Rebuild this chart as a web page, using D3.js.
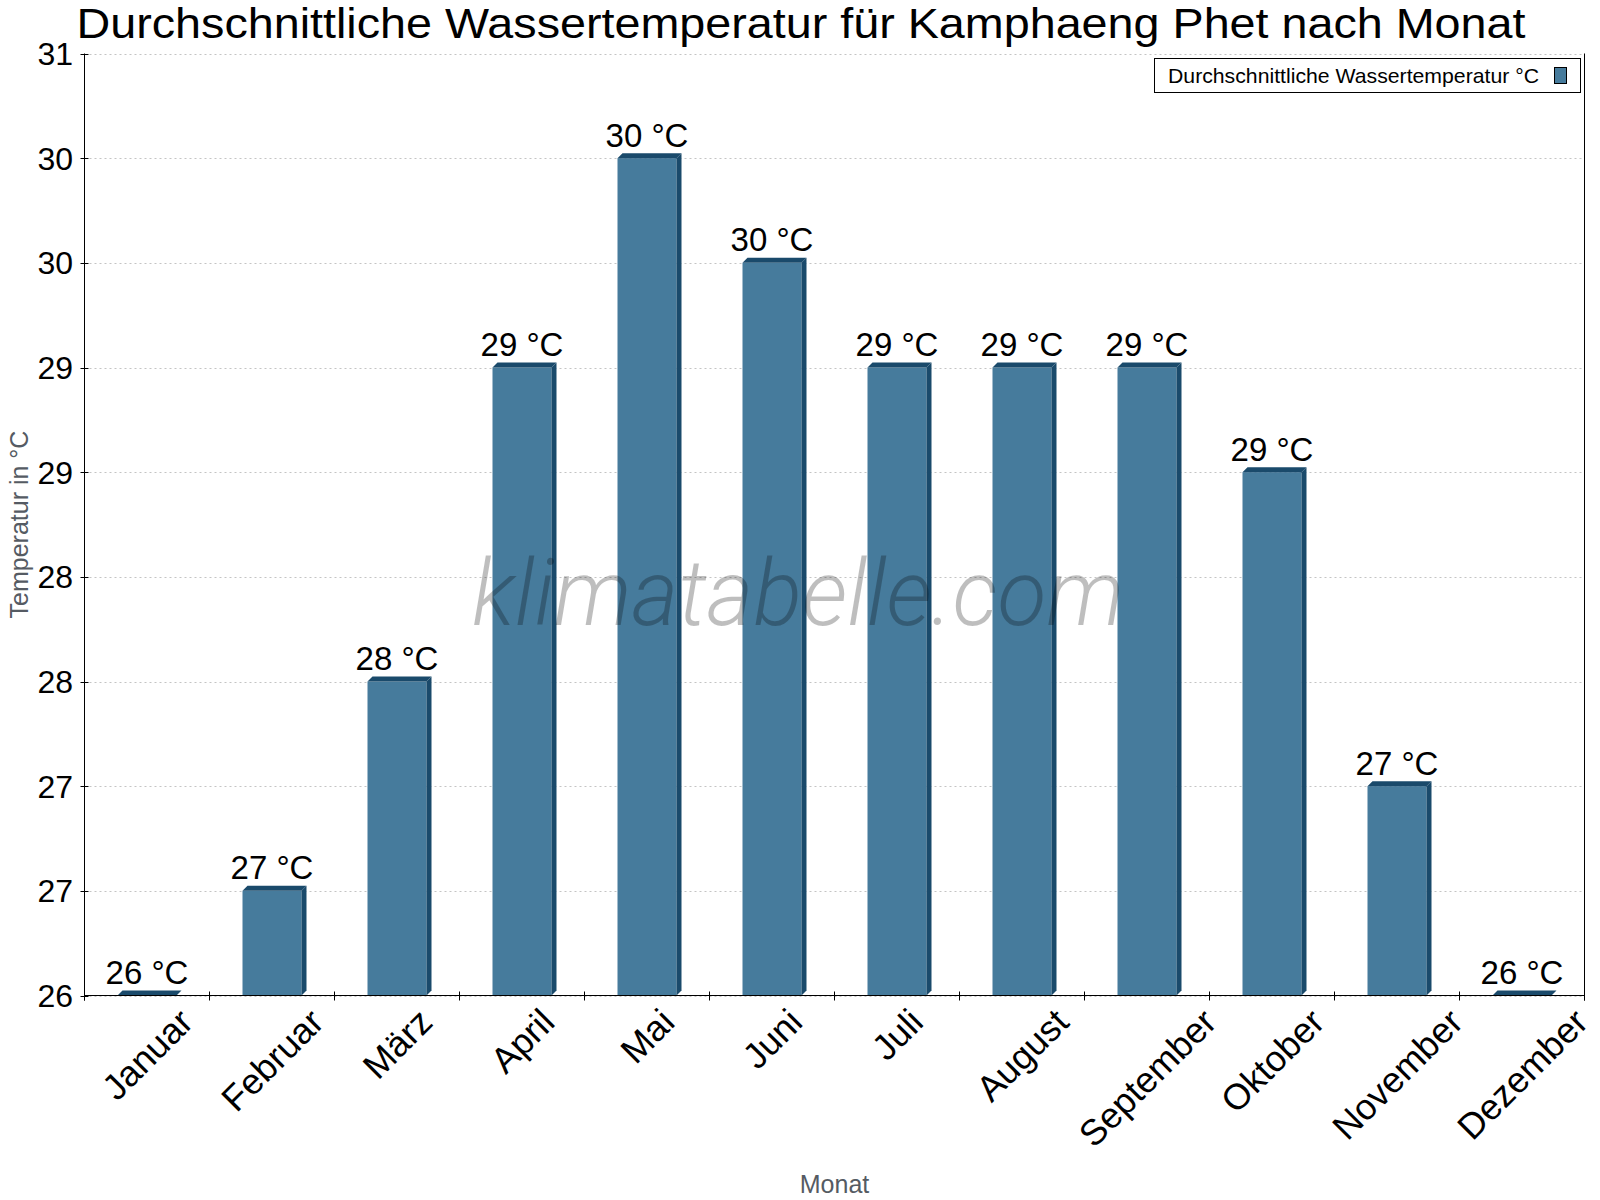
<!DOCTYPE html>
<html>
<head>
	<meta charset="utf-8">
	<title>Durchschnittliche Wassertemperatur Kamphaeng Phet</title>
	<script src="https://d3js.org/d3.v7.min.js"></script>
	<style type="text/css">
		body { margin: 0; background: #fff; }
		svg { display: block; font-family: "Liberation Sans", Arial, Helvetica, sans-serif; }
		.grid { stroke: #c4c4c4; stroke-dasharray: 2,3; }
		.axis { stroke: #000; fill: none; }
	</style>
</head>
<body>
<div id="chart"></div>
<script type="text/javascript">
var months = ["Januar", "Februar", "März", "April", "Mai", "Juni", "Juli",
              "August", "September", "Oktober", "November", "Dezember"];
var waterTemp = [26.0, 26.5, 27.5, 29.0, 30.0, 29.5, 29.0, 29.0, 29.0, 28.5, 27.0, 26.0];
var yTicks = [26, 26.5, 27, 27.5, 28, 28.5, 29, 29.5, 30, 30.5];
var seriesName = "Durchschnittliche Wassertemperatur °C";

var svg_width = 1600;
var svg_height = 1200;
// note: "top" is taken by window.top, so plot_* names
var plot_left = 84.5, plot_right = 1584.5, plot_top = 53.5, plot_bottom = 995.5;
var depth = 5;
var front_color = "#467b9c";
var dark_color = "#1a4a6b";

var svg = d3.select("#chart")
	.append("svg")
	.attr("width", svg_width)
	.attr("height", svg_height);

var x = d3.scaleBand().domain(months).range([plot_left, plot_right]);
var y = d3.scaleLinear().domain([26, 30.5]).range([plot_bottom, plot_top]);

// grid lines
svg.append("g")
	.selectAll("line")
	.data(yTicks)
	.enter().append("line")
	.attr("class", "grid")
	.attr("x1", plot_left)
	.attr("x2", plot_right)
	.attr("y1", function(d) { return Math.round(y(d)) + 0.5; })
	.attr("y2", function(d) { return Math.round(y(d)) + 0.5; });

// 3d bars
var fw = x.bandwidth() * 0.472;
var bars = svg.append("g")
	.selectAll("g")
	.data(months)
	.enter().append("g");

function frontX(m) { return x(m) + x.bandwidth() / 2 - fw / 2; }

bars.append("rect")
	.attr("x", function(m) { return frontX(m); })
	.attr("y", function(m, i) { return y(waterTemp[i]); })
	.attr("width", fw)
	.attr("height", function(m, i) { return plot_bottom - y(waterTemp[i]); })
	.attr("fill", front_color);

bars.append("polygon")
	.attr("fill", dark_color)
	.attr("points", function(m, i) {
		var x0 = frontX(m), yt = y(waterTemp[i]);
		return [[x0, yt], [x0 + depth, yt - depth], [x0 + fw + depth, yt - depth], [x0 + fw, yt]].join(" ");
	});

bars.append("polygon")
	.attr("fill", dark_color)
	.attr("points", function(m, i) {
		var x1 = frontX(m) + fw, yt = y(waterTemp[i]);
		return [[x1, yt], [x1 + depth, yt - depth], [x1 + depth, plot_bottom - depth], [x1, plot_bottom]].join(" ");
	});

// value labels
bars.append("text")
	.attr("x", function(m) { return x(m) + x.bandwidth() / 2; })
	.attr("y", function(m, i) { return y(waterTemp[i]) - 11.5; })
	.attr("text-anchor", "middle")
	.style("font-size", "33px")
	.text(function(m, i) { return Math.round(waterTemp[i]) + " °C"; });

// watermark sits over the bars
svg.append("text")
	.attr("x", 798)
	.attr("y", 625)
	.attr("text-anchor", "middle")
	.attr("textLength", 652)
	.attr("lengthAdjust", "spacingAndGlyphs")
	.style("font-family", "Roboto, 'Open Sans', sans-serif")
	.style("font-weight", 300)
	.style("font-style", "italic")
	.style("font-size", "93px")
	.style("fill", "#000")
	.style("opacity", 0.25)
	.text("klimatabelle.com");

// axes
svg.append("line").attr("class", "axis")
	.attr("x1", plot_left).attr("x2", plot_left).attr("y1", plot_top).attr("y2", plot_bottom + 5);
svg.append("line").attr("class", "axis")
	.attr("x1", plot_right).attr("x2", plot_right).attr("y1", plot_top).attr("y2", plot_bottom + 5);
svg.append("line").attr("class", "axis")
	.attr("x1", plot_left).attr("x2", plot_right).attr("y1", plot_bottom).attr("y2", plot_bottom);

// y ticks
var yAxis = svg.append("g");
yAxis.selectAll("line")
	.data(yTicks)
	.enter().append("line")
	.attr("class", "axis")
	.attr("x1", plot_left - 4)
	.attr("x2", plot_left + 4)
	.attr("y1", function(d) { return Math.round(y(d)) + 0.5; })
	.attr("y2", function(d) { return Math.round(y(d)) + 0.5; });
yAxis.selectAll("text")
	.data(yTicks)
	.enter().append("text")
	.attr("x", 73)
	.attr("y", function(d) { return y(d); })
	.attr("dy", "0.36em")
	.attr("text-anchor", "end")
	.style("font-size", "32px")
	.text(function(d) { return Math.round(d); });

// x ticks at band edges
var edges = months.map(function(m) { return x(m); }).concat([plot_right]);
svg.append("g")
	.selectAll("line")
	.data(edges)
	.enter().append("line")
	.attr("class", "axis")
	.attr("x1", function(d) { return d; })
	.attr("x2", function(d) { return d; })
	.attr("y1", plot_bottom - 4)
	.attr("y2", plot_bottom + 5);

// rotated month labels: rotated box centred on the band, top fixed
var labelTop = 1006;
var capH = 26;
var xlab = svg.append("g")
	.selectAll("g")
	.data(months)
	.enter().append("g");
xlab.append("text")
	.attr("text-anchor", "middle")
	.attr("dy", "0.36em")
	.attr("transform", "rotate(-45)")
	.style("font-size", "36px")
	.text(function(m) { return m; });
xlab.attr("transform", function(m) {
	var w = d3.select(this).select("text").node().getComputedTextLength();
	var cx = x(m) + x.bandwidth() / 2;
	var cy = labelTop + (w + capH) / (2 * Math.SQRT2);
	return "translate(" + cx + "," + cy + ")";
});

// axis titles
svg.append("text")
	.attr("transform", "translate(27.5," + ((plot_top + plot_bottom) / 2) + ") rotate(-90)")
	.attr("text-anchor", "middle")
	.style("font-size", "25px")
	.style("fill", "#555b63")
	.text("Temperatur in °C");

svg.append("text")
	.attr("x", (plot_left + plot_right) / 2)
	.attr("y", 1193)
	.attr("text-anchor", "middle")
	.style("font-size", "25px")
	.style("fill", "#555b63")
	.text("Monat");

// title
svg.append("text")
	.attr("x", 801)
	.attr("y", 38)
	.attr("text-anchor", "middle")
	.attr("textLength", 1449)
	.attr("lengthAdjust", "spacingAndGlyphs")
	.style("font-size", "43px")
	.text("Durchschnittliche Wassertemperatur für Kamphaeng Phet nach Monat");

// legend
var legend = svg.append("g");
legend.append("rect")
	.attr("x", 1154.5)
	.attr("y", 58.5)
	.attr("width", 426)
	.attr("height", 34)
	.attr("fill", "#fff")
	.attr("stroke", "#000");
legend.append("text")
	.attr("x", 1168)
	.attr("y", 82.5)
	.attr("textLength", 371)
	.attr("lengthAdjust", "spacingAndGlyphs")
	.style("font-size", "21px")
	.text(seriesName);
legend.append("rect")
	.attr("x", 1554.5)
	.attr("y", 67.5)
	.attr("width", 12)
	.attr("height", 16)
	.attr("fill", front_color)
	.attr("stroke", "#000");
</script>
</body>
</html>
